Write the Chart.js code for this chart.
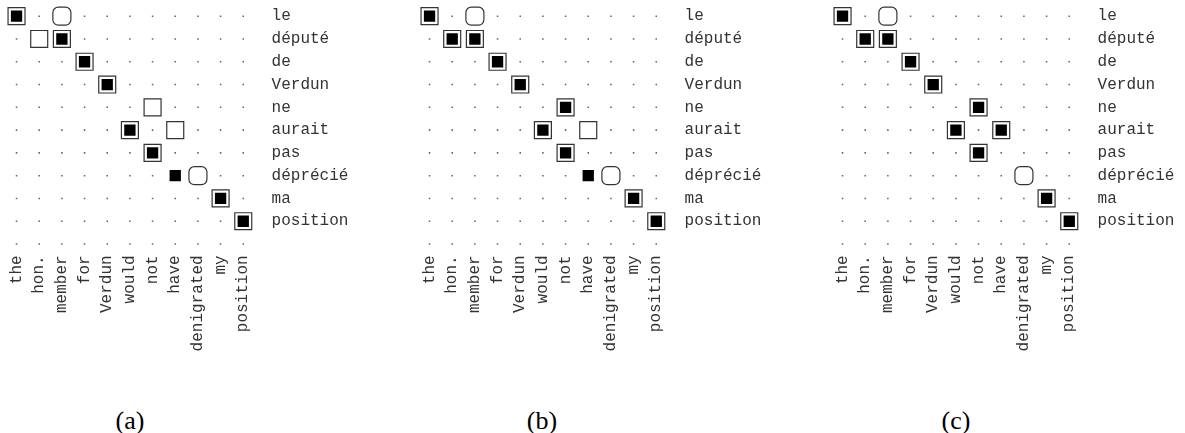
<!DOCTYPE html>
<html>
<head>
<meta charset="utf-8">
<script src="https://cdn.jsdelivr.net/npm/chart.js@4.4.1/dist/chart.umd.min.js"></script>
<style>
    html, body { margin: 0; padding: 0; background: #fff; }
    #wrap { position: relative; width: 1185px; height: 433px; overflow: hidden; }
    .panel { position: absolute; top: 0; width: 413px; height: 380px; }
    .caption {
        position: absolute; top: 408px; width: 80px; margin-left: -40px;
        text-align: center; font: 26px/26px "Liberation Serif", "Times New Roman", serif; color: #000;
    }
</style>
</head>
<body>
<div id="wrap">
    <div class="panel" style="left:0px"><canvas id="chartA"></canvas></div>
    <div class="panel" style="left:413px"><canvas id="chartB"></canvas></div>
    <div class="panel" style="left:826px"><canvas id="chartC"></canvas></div>
    <div class="caption" style="left:130px">(a)</div>
    <div class="caption" style="left:542px">(b)</div>
    <div class="caption" style="left:956px">(c)</div>
</div>
<script>
// Mots source (colonnes) et cible (lignes)
const englishWords = ['the', 'hon.', 'member', 'for', 'Verdun', 'would', 'not', 'have', 'denigrated', 'my', 'position'];
const frenchWords = ['le', 'député', 'de', 'Verdun', 'ne', 'aurait', 'pas', 'déprécié', 'ma', 'position'];

// Alignements de référence : [colonne anglaise, ligne française]
const sureLinks = [[0, 0], [1, 1], [2, 1], [3, 2], [4, 3], [6, 4], [5, 5], [7, 5], [6, 6], [9, 8], [10, 9]];
const possibleLinks = [[2, 0], [8, 7]];

// Alignements prédits pour chaque panneau
const predictedA = [[0, 0], [2, 1], [3, 2], [4, 3], [5, 5], [6, 6], [7, 7], [9, 8], [10, 9]];
const predictedB = [[0, 0], [1, 1], [2, 1], [3, 2], [4, 3], [6, 4], [5, 5], [6, 6], [7, 7], [9, 8], [10, 9]];
const predictedC = [[0, 0], [1, 1], [2, 1], [3, 2], [4, 3], [6, 4], [5, 5], [7, 5], [6, 6], [9, 8], [10, 9]];

// ligne vide en bas (points seuls)
const rowLabels = [...frenchWords, ''];

const AREA_LEFT = 5.2;
const AREA_TOP = 4.8;
const AREA_RIGHT = 254.6;
const AREA_BOTTOM = 255.4;

const toPoints = links => links.map(([x, y]) => ({ x: englishWords[x], y: rowLabels[y] }));

function emptyCells(predicted) {
    const used = new Set([...sureLinks, ...possibleLinks, ...predicted].map(([x, y]) => x + ',' + y));
    const links = [];
    rowLabels.forEach((_, y) => {
        englishWords.forEach((_, x) => {
            if (!used.has(x + ',' + y)) links.push([x, y]);
        });
    });
    return toPoints(links);
}

function noScalePadding(scale) {
    scale.paddingLeft = 0;
    scale.paddingRight = 0;
    scale.paddingTop = 0;
    scale.paddingBottom = 0;
}

function createAlignmentChart(canvasId, predicted) {
    const ctx = document.getElementById(canvasId).getContext('2d');
    const tickFont = { family: '"Liberation Mono", "Courier New", monospace', size: 16 };

    // le premier dataset est dessiné au-dessus
    return new Chart(ctx, {
        type: 'scatter',
        data: {
            datasets: [
                {
                    data: toPoints(predicted),
                    pointStyle: 'rect',
                    pointRadius: 8,
                    backgroundColor: '#000',
                    borderWidth: 0
                },
                {
                    data: toPoints(sureLinks),
                    pointStyle: 'rect',
                    pointRadius: 12,
                    backgroundColor: '#fff',
                    borderColor: '#333',
                    borderWidth: 1.2
                },
                {
                    data: toPoints(possibleLinks),
                    pointStyle: 'rectRounded',
                    pointRadius: 10.5,
                    backgroundColor: '#fff',
                    borderColor: '#333',
                    borderWidth: 1.2
                },
                {
                    data: emptyCells(predicted),
                    pointStyle: 'rect',
                    pointRadius: 1.1,
                    backgroundColor: '#666',
                    borderWidth: 0
                }
            ]
        },
        options: {
            responsive: true,
            maintainAspectRatio: false,
            animation: false,
            events: [],
            layout: {
                autoPadding: false,
                padding: { left: AREA_LEFT, top: AREA_TOP, right: 0, bottom: 0 }
            },
            plugins: {
                legend: { display: false },
                tooltip: { enabled: false }
            },
            scales: {
                x: {
                    type: 'category',
                    labels: englishWords,
                    offset: true,
                    position: 'bottom',
                    grid: { display: false, drawTicks: false },
                    border: { display: false },
                    ticks: {
                        autoSkip: false,
                        minRotation: 90,
                        maxRotation: 90,
                        padding: 0,
                        color: '#333',
                        font: tickFont
                    },
                    afterFit: scale => {
                        noScalePadding(scale);
                        scale.height = scale.chart.height - AREA_BOTTOM;
                    }
                },
                y: {
                    type: 'category',
                    labels: rowLabels,
                    offset: true,
                    position: 'right',
                    grid: { display: false, drawTicks: false },
                    border: { display: false },
                    ticks: {
                        autoSkip: false,
                        padding: 17,
                        color: '#333',
                        font: tickFont
                    },
                    afterFit: scale => {
                        noScalePadding(scale);
                        scale.width = scale.chart.width - AREA_RIGHT;
                    }
                }
            }
        }
    });
}

createAlignmentChart('chartA', predictedA);
createAlignmentChart('chartB', predictedB);
createAlignmentChart('chartC', predictedC);
</script>
</body>
</html>
